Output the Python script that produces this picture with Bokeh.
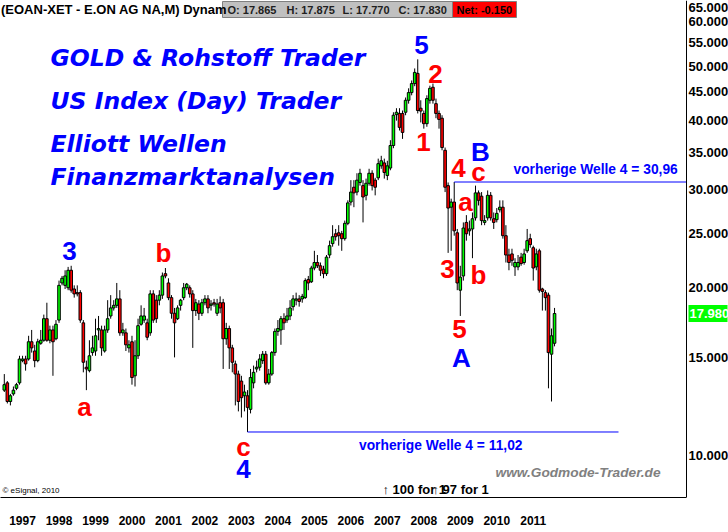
import math
from bokeh.plotting import figure
from bokeh.models import Range1d, FixedTicker, PrintfTickFormatter, Label, ColumnDataSource
from bokeh.core.properties import value
from bokeh.embed import file_html
from bokeh.resources import INLINE

# ---------------- data (monthly candles, E.ON AG, Sep 1996 .. Oct 2011) ----------------
opens = [13.1, 13.5, 12.5, 12.9, 13.2, 13.5, 14.8, 14.9, 14.9, 16.0,
         15.4, 14.8, 15.9, 16.1, 17.6, 16.1, 16.8, 16.2, 17.5, 20.4,
         20.2, 20.0, 21.5, 19.9, 19.6, 19.6, 17.3, 14.4, 14.2, 15.3,
         15.4, 16.8, 16.8, 15.4, 16.8, 17.8, 18.4, 18.6, 19.1, 16.6,
         16.6, 15.6, 16.0, 13.9, 15.1, 17.2, 17.5, 17.3, 16.6, 19.5,
         19.0, 19.0, 19.4, 21.2, 20.4, 19.2, 18.0, 17.6, 18.6, 19.2,
         20.0, 20.0, 19.5, 18.2, 18.7, 18.0, 18.8, 19.1, 18.6, 18.8,
         18.0, 18.8, 18.8, 16.2, 16.9, 15.6, 14.6, 14.0, 13.6, 12.8,
         12.8, 12.1, 13.5, 14.3, 14.4, 14.8, 15.2, 13.5, 14.0, 15.3,
         16.7, 16.8, 17.6, 17.5, 17.8, 18.5, 19.0, 19.1, 19.1, 19.2,
         20.7, 20.5, 21.7, 22.2, 21.9, 21.6, 21.2, 22.9, 24.0, 25.0,
         25.1, 25.0, 24.5, 26.1, 28.5, 30.3, 29.7, 30.9, 30.5, 29.3,
         30.8, 32.1, 31.2, 31.5, 33.1, 33.5, 31.8, 32.8, 36.0, 40.9,
         41.1, 41.1, 41.3, 43.4, 44.8, 46.5, 48.5, 42.0, 41.1, 39.4,
         43.4, 45.8, 42.8, 41.1, 40.3, 35.3, 30.5, 27.9, 28.5, 25.1,
         19.8, 21.0, 26.2, 25.3, 25.5, 26.7, 29.6, 29.2, 26.2, 26.7,
         29.3, 26.6, 26.5, 27.6, 27.9, 24.8, 22.9, 23.0, 21.8, 21.8,
         22.7, 22.2, 23.3, 24.5, 23.6, 21.8, 23.3, 19.9, 19.6, 19.4,
         15.2, 15.9]
highs = [14.0, 13.6, 12.9, 13.3, 13.5, 15.1, 15.1, 15.1, 16.4, 16.8,
         15.8, 16.2, 16.8, 17.9, 18.8, 17.1, 17.1, 17.5, 20.6, 21.0,
         21.5, 21.8, 21.9, 20.2, 20.2, 19.8, 17.5, 14.8, 16.1, 16.4,
         17.6, 17.8, 17.1, 17.1, 19.0, 19.4, 19.0, 20.4, 19.8, 17.3,
         16.9, 16.1, 16.4, 16.1, 17.6, 18.6, 18.4, 17.6, 19.8, 19.8,
         19.4, 19.8, 21.3, 21.7, 20.8, 19.4, 18.4, 18.6, 19.1, 20.4,
         20.4, 20.2, 19.8, 19.1, 19.0, 19.1, 19.4, 19.4, 19.0, 19.1,
         19.1, 19.3, 19.1, 17.3, 17.1, 15.8, 14.8, 14.2, 13.9, 13.4,
         13.1, 14.3, 14.5, 14.8, 15.2, 15.4, 15.4, 14.3, 15.4, 16.9,
         17.5, 17.8, 18.0, 18.4, 19.0, 19.4, 19.6, 19.4, 19.5, 20.8,
         21.0, 21.9, 23.3, 22.9, 22.2, 21.9, 22.9, 24.3, 25.9, 25.5,
         25.9, 25.3, 26.4, 28.7, 31.2, 31.2, 32.1, 32.7, 31.2, 31.4,
         32.7, 32.5, 31.5, 34.1, 34.5, 34.1, 33.8, 36.8, 41.3, 42.0,
         42.0, 41.6, 43.9, 45.6, 47.1, 49.5, 51.4, 43.4, 41.6, 44.3,
         46.1, 46.5, 43.7, 41.6, 40.8, 35.7, 30.9, 28.9, 30.96, 25.5,
         21.9, 26.2, 27.0, 26.4, 27.3, 30.5, 29.9, 29.7, 27.0, 29.9,
         29.7, 27.3, 27.8, 28.7, 28.7, 25.9, 23.5, 23.5, 22.6, 22.9,
         23.1, 23.5, 25.5, 25.0, 23.8, 23.5, 23.5, 20.0, 19.8, 19.6,
         16.9, 18.4]
lows = [13.0, 12.4, 12.3, 12.8, 13.1, 13.4, 14.7, 14.2, 14.8, 15.3,
        14.4, 14.7, 15.8, 16.0, 16.0, 15.9, 13.9, 16.1, 17.3, 20.2,
        19.9, 19.8, 19.6, 19.2, 19.3, 17.3, 14.1, 13.1, 14.1, 15.1,
        15.1, 16.1, 15.1, 15.3, 16.6, 17.6, 18.2, 18.4, 16.4, 16.4,
        15.4, 15.3, 13.4, 13.3, 14.9, 17.1, 17.3, 16.1, 16.4, 17.3,
        17.3, 18.6, 19.1, 20.8, 19.0, 17.6, 15.0, 17.5, 18.2, 19.0,
        19.8, 19.2, 15.6, 17.8, 17.5, 17.8, 18.6, 18.0, 18.2, 18.5,
        17.8, 18.0, 14.3, 15.8, 14.3, 14.1, 12.3, 12.0, 11.7, 12.0,
        11.02, 11.9, 13.2, 14.1, 14.2, 14.6, 13.4, 13.4, 13.9, 15.1,
        16.4, 15.8, 16.8, 17.3, 17.5, 18.2, 18.6, 18.5, 18.8, 19.1,
        19.8, 20.4, 21.5, 21.7, 21.0, 20.8, 21.0, 22.6, 23.7, 24.3,
        23.8, 23.3, 24.3, 25.9, 28.1, 27.9, 29.3, 30.5, 26.2, 28.7,
        30.5, 29.9, 29.3, 31.2, 32.7, 31.4, 31.2, 32.5, 35.6, 39.9,
        38.3, 37.0, 40.8, 42.8, 44.3, 46.0, 41.1, 39.6, 38.6, 38.9,
        42.8, 42.8, 40.3, 38.6, 35.3, 29.7, 23.1, 23.3, 24.8, 19.8,
        17.8, 20.6, 24.3, 24.8, 22.6, 26.4, 28.1, 25.9, 25.9, 26.4,
        26.4, 25.5, 26.2, 27.3, 24.5, 22.2, 21.5, 21.9, 21.0, 21.5,
        21.9, 22.0, 23.1, 23.6, 20.6, 21.5, 19.6, 18.2, 18.2, 13.2,
        12.5, 15.7]
closes = [13.4, 12.5, 12.8, 13.1, 13.4, 14.9, 14.9, 14.6, 16.0, 15.6,
          14.8, 16.0, 16.1, 17.6, 16.1, 16.8, 16.0, 17.2, 20.2, 20.8,
          21.0, 21.5, 19.8, 19.5, 19.5, 17.5, 14.7, 14.3, 15.1, 15.6,
          16.4, 16.9, 15.6, 16.8, 17.6, 18.4, 18.6, 19.1, 16.6, 16.8,
          15.8, 15.8, 13.8, 15.1, 17.1, 17.8, 17.8, 16.3, 19.5, 17.5,
          17.6, 19.4, 21.0, 21.0, 19.2, 18.0, 17.3, 18.4, 19.0, 20.0,
          20.3, 19.5, 18.2, 18.8, 18.0, 18.8, 19.1, 18.4, 18.7, 18.7,
          18.7, 18.4, 16.2, 16.9, 15.6, 14.7, 14.0, 12.5, 12.7, 13.0,
          12.2, 13.8, 14.1, 14.4, 14.9, 15.2, 13.5, 14.0, 15.3, 16.7,
          16.9, 17.6, 17.3, 17.8, 18.4, 19.1, 19.1, 18.9, 19.3, 20.6,
          20.4, 21.7, 22.2, 21.9, 21.5, 21.2, 22.7, 23.8, 24.7, 24.7,
          24.8, 24.5, 26.1, 28.4, 29.7, 29.6, 31.2, 32.1, 29.1, 30.8,
          32.1, 30.5, 30.3, 33.4, 33.8, 32.2, 33.1, 36.0, 40.8, 41.3,
          38.8, 38.0, 43.4, 44.8, 46.5, 48.7, 41.6, 41.5, 39.4, 43.7,
          45.6, 43.4, 41.1, 40.1, 35.7, 30.3, 27.8, 28.5, 25.3, 20.4,
          20.9, 25.6, 25.0, 25.5, 26.6, 29.6, 28.7, 26.4, 26.4, 29.3,
          26.7, 26.2, 27.2, 27.9, 24.8, 22.9, 22.2, 22.4, 22.2, 22.2,
          22.1, 23.0, 24.3, 23.9, 21.7, 23.0, 19.8, 19.7, 19.2, 15.3,
          16.4, 17.98]

year_labels = ["1997", "1998", "1999", "2000", "2001", "2002", "2003", "2004",
               "2005", "2006", "2007", "2008", "2009", "2010", "2011"]
year_tick_idx = [6, 18, 30, 42, 54, 66, 78, 90, 102, 114, 126, 138, 150, 162, 174]
price_ticks = [10, 15, 20, 25, 30, 35, 40, 45, 50, 55, 60]
top_tick_label = "65.000"
last_close_label = "17.980"

prev_wave4_high = 30.96
prev_wave4_high_idx = 148
prev_wave4_low = 11.02
prev_wave4_low_idx = 80

header_title = "(EOAN-XET - E.ON AG NA,M) Dynam"
header_fields = ["O: 17.865", "H: 17.875", "L: 17.770", "C: 17.830"]
header_net = "Net: -0.150"

# ---------------- layout helpers (reference pixel position -> data position) ----------------
def XI(xr):
    return (xr - 3.8) / 3.04

def YP(yr):
    return 10.0 * math.exp((455.0 - yr) / 242.0)

X0, X1 = XI(0), XI(728)
X_AXIS = XI(686)
Y0, Y1 = YP(497), YP(0)

p = figure(width=728, height=532, x_range=Range1d(X0, X1), y_range=Range1d(Y0, Y1),
           y_axis_type="log", y_axis_location="right", x_axis_location="below",
           toolbar_location=None, output_backend="svg", title=None,
           min_border_left=0, min_border_top=0, min_border_right=0, min_border_bottom=35)
p.outline_line_color = None
p.grid.visible = False
p.background_fill_color = "white"
p.border_fill_color = "white"

ya = p.yaxis[0]
ya.fixed_location = X_AXIS
ya.ticker = FixedTicker(ticks=price_ticks)
ya.formatter = PrintfTickFormatter(format="%.3f")
ya.major_tick_out = 0
ya.major_tick_in = 0
ya.minor_tick_out = 0
ya.minor_tick_in = 0
ya.major_label_standoff = 2
ya.major_label_text_font = "Liberation Sans"
ya.major_label_text_font_style = "bold"
ya.major_label_text_font_size = "13px"
ya.major_label_text_color = "black"
ya.axis_line_color = "black"

xa = p.xaxis[0]
xa.bounds = (X0, X_AXIS)
xa.ticker = FixedTicker(ticks=year_tick_idx)
xa.major_label_overrides = {t: l for t, l in zip(year_tick_idx, year_labels)}
xa.major_tick_out = 0
xa.major_tick_in = 0
xa.minor_tick_out = 0
xa.minor_tick_in = 0
xa.major_label_standoff = 18
xa.major_label_text_font = "Liberation Sans"
xa.major_label_text_font_style = "bold"
xa.major_label_text_font_size = "12px"
xa.major_label_text_color = "black"
xa.axis_line_color = "black"

# ---------------- candles ----------------
idx = list(range(len(closes)))
src = ColumnDataSource(dict(
    x=idx, h=highs, l=lows,
    top=[max(o, c) for o, c in zip(opens, closes)],
    bottom=[min(o, c) for o, c in zip(opens, closes)],
    color=["#00ff00" if c >= o else "#ff0000" for o, c in zip(opens, closes)],
))
p.segment(x0="x", y0="h", x1="x", y1="l", source=src, line_color="black", line_width=1)
p.vbar(x="x", width=0.85, top="top", bottom="bottom", fill_color="color",
       line_color="black", line_width=1, source=src)

# ---------------- reference lines ----------------
p.segment(x0=[prev_wave4_high_idx], x1=[X_AXIS], y0=[prev_wave4_high], y1=[prev_wave4_high],
          line_color="#0000ff", line_width=1)
p.segment(x0=[prev_wave4_low_idx], x1=[XI(618)], y0=[prev_wave4_low], y1=[prev_wave4_low],
          line_color="#0000ff", line_width=1)


def txt(xr, yr, s, color="black", size="13px", style="bold", font="Liberation Sans",
        align="left", baseline="middle"):
    p.text(x=[XI(xr)], y=[YP(yr)], text=[s], text_color=color, text_font=value(font),
           text_font_size=size, text_font_style=style, text_align=align,
           text_baseline=baseline)


# ---------------- header ----------------
p.quad(left=[XI(222)], right=[XI(452)], top=[YP(1)], bottom=[YP(17)],
       fill_color="#c0c0c0", line_color="#808080", line_width=1)
p.quad(left=[XI(452)], right=[XI(516)], top=[YP(1)], bottom=[YP(17)],
       fill_color="#ff0000", line_color="#808080", line_width=1)
txt(0.5, 9, header_title, size="13px")
for xr, s in zip([227, 286, 342, 398], header_fields):
    txt(xr, 9.5, s, color="#202020", size="11px")
txt(456, 9.5, header_net, color="black", size="11px")

# ---------------- promo texts ----------------
for yr, s in zip([57, 100, 143.5, 176.5],
                 ["GOLD & Rohstoff Trader", "US Index (Day) Trader",
                  "Elliott Wellen", "Finanzmarktanalysen"]):
    txt(50, yr, s, color="#0000ff", size="23.5px", style="bold italic", font="DejaVu Sans")

# ---------------- Elliott wave labels ----------------
waves = [("3", "#0000ff", 69, 250), ("a", "#ff0000", 84, 406), ("b", "#ff0000", 163, 252),
         ("c", "#ff0000", 243, 446), ("4", "#0000ff", 243, 468), ("5", "#0000ff", 421, 44),
         ("2", "#ff0000", 435, 73), ("1", "#ff0000", 423, 141), ("4", "#ff0000", 458, 167),
         ("c", "#ff0000", 478, 171), ("B", "#0000ff", 480, 151), ("a", "#ff0000", 465, 201),
         ("3", "#ff0000", 447, 268), ("b", "#ff0000", 478, 274), ("5", "#ff0000", 459, 328),
         ("A", "#0000ff", 461, 357)]
for s, col, xr, yr in waves:
    txt(xr, yr, s, color=col, size="26px", align="center")

txt(513, 169, "vorherige Welle 4 = 30,96", color="#0000ff", size="13.8px")
txt(522, 445, "vorherige Welle 4 = 11,02", color="#0000ff", size="13.8px", align="right")
txt(495, 472, "www.Godmode-Trader.de", color="#808080", size="13.7px", style="bold italic")
txt(382, 489, "\u2191 100 for 1", size="13px")
txt(432, 489, "\u2191 97 for 1", size="13px")
txt(2, 490, "\u00a9 eSignal, 2010", size="8px", style="normal")

# ---------------- right-axis extras ----------------
p.quad(left=[XI(688)], right=[XI(727)], top=[YP(304.5)], bottom=[YP(321.5)],
       fill_color="#00ff00", line_color=None)
p.text(x=[XI(689)], y=[closes[-1]], text=[last_close_label], text_color="white",
       text_font=value("Liberation Sans"), text_font_style="bold", text_font_size="13px",
       text_align="left", text_baseline="middle")
p.add_layout(Label(x=688, y=YP(6.5), x_units="screen", y_units="data", text=top_tick_label,
                   text_color="black", text_font="Liberation Sans", text_font_style="bold",
                   text_font_size="13px", text_baseline="middle", text_align="left"))

open("out.html", "w").write(file_html(p, INLINE))
